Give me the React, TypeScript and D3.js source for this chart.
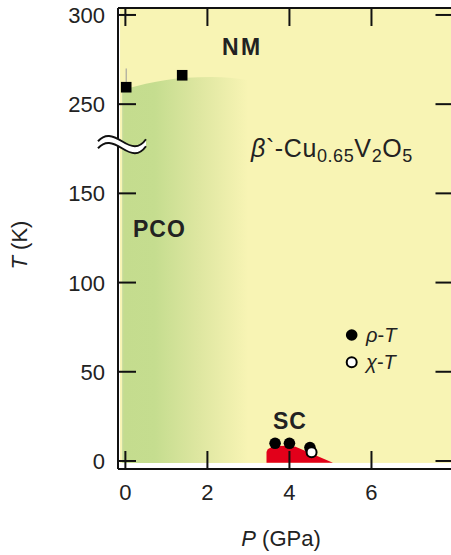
import React from "react";
import * as d3 from "d3";

// ---- data ----
const xTicks = [0, 2, 4, 6];
const yTicksLow = [0, 50, 100, 150];
const yTicksHigh = [250, 300];

// CDW (NM -> PCO) transition squares
const cdwP = [0.02, 1.385];
const cdwT = [259.5, 266.2];
const cdwErrUp = [10.5, 0];

// PCO dome upper boundary
const pcoP = [-0.08, 0.5, 1.0, 1.5, 2.1, 2.6, 3.0, 3.6];
const pcoT = [258, 261.5, 263.6, 264.8, 265.2, 264.7, 263.6, 261.5];

// SC region outline
const scP = [3.44, 3.44, 3.47, 3.56, 3.75, 3.95, 4.15, 5.06];
const scT = [-1, 5.0, 6.6, 7.7, 8.4, 8.6, 8.0, -1];

// rho-T points (filled), chi-T points (open)
const rhoP = [3.65, 4.0, 4.5];
const rhoT = [9.9, 9.9, 7.5];
const chiP = [4.54];
const chiT = [4.9];

const W = 451;
const H = 555;
const FONT = "'Liberation Sans', Arial, Helvetica, sans-serif";

// broken axis: values above 200 K shifted down by 50 K
const disp = (t: number) => (t > 200 ? t - 50 : t);

export default function App() {
  const x = d3.scaleLinear().domain([-0.18, 8]).range([118, 453.5]);
  const yS = d3.scaleLinear().domain([-4.5, 253.9]).range([469, 8]);
  const y = (t: number) => yS(disp(t));

  const bgLeft = x(-0.13);
  const bgBottom = y(-1.1);

  const pcoArea = d3
    .area<number>()
    .x((_, i) => x(pcoP[i]))
    .y0(() => bgBottom)
    .y1((_, i) => y(pcoT[i]))
    .curve(d3.curveMonotoneX);

  const scLine = d3
    .line<number>()
    .x((_, i) => x(scP[i]))
    .y((_, i) => y(scT[i]))
    .curve(d3.curveLinear);

  const tickLen = 18;
  const yAll = [...yTicksLow, ...yTicksHigh];

  // break symbol geometry
  const by = (yS(150) + yS(200)) / 2 - 4;
  const bx0 = x(-0.18) - 20;
  const bx1 = x(-0.18) + 28;
  const bw = bx1 - bx0;
  const wave = (dy: number) =>
    `M${bx0},${by + dy} C${bx0 + bw * 0.15},${by + dy - 8} ${bx0 + bw * 0.3},${by + dy - 6} ${bx0 + bw * 0.5},${by + dy} S${bx0 + bw * 0.85},${by + dy + 8} ${bx1},${by + dy - 2}`;
  const gap = 7;
  const bandPath = `${wave(-gap / 2)} L${bx1},${by + gap / 2 - 2} C${bx0 + bw * 0.85},${by + gap / 2 + 8} ${bx0 + bw * 0.65},${by + gap / 2 + 6} ${bx0 + bw * 0.5},${by + gap / 2} S${bx0 + bw * 0.15},${by + gap / 2 - 8} ${bx0},${by + gap / 2} Z`;

  const idxP = pcoP.map((_, i) => i);
  const idxS = scP.map((_, i) => i);

  return (
    <svg
      width={W}
      height={H}
      style={{ position: "absolute", left: 0, top: 0, background: "#fff" }}
      fontFamily={FONT}
    >
      <defs>
        <linearGradient id="pcoGrad" gradientUnits="userSpaceOnUse" x1={bgLeft} x2={x(3.0)} y1={0} y2={0}>
          <stop offset="0" stopColor="#cadcc0" />
          <stop offset="0.03" stopColor="#c4dc8e" />
          <stop offset="0.27" stopColor="#c5dd8f" />
          <stop offset="0.6" stopColor="#dde6a0" />
          <stop offset="1" stopColor="#f8f4b4" />
        </linearGradient>
      </defs>

      {/* plot background */}
      <rect x={bgLeft} y={yS(253.9) + 1} width={W - bgLeft} height={bgBottom - yS(253.9) - 1} fill="#f8f4b4" />

      {/* PCO region */}
      <path d={pcoArea(idxP) || ""} fill="url(#pcoGrad)" />

      {/* SC region */}
      <path d={(scLine(idxS) || "") + "Z"} fill="#e2001a" />

      {/* frame */}
      <g stroke="#111" strokeWidth={2} fill="none">
        <line x1={x(-0.18)} x2={W} y1={yS(-4.5)} y2={yS(-4.5)} />
        <line x1={x(-0.18)} x2={W} y1={yS(253.9)} y2={yS(253.9)} />
        <line x1={x(-0.18)} x2={x(-0.18)} y1={yS(253.9)} y2={yS(-4.5)} />
        <line x1={x(8)} x2={x(8)} y1={yS(253.9)} y2={yS(-4.5)} />
        {xTicks.map((t) => (
          <g key={"xt" + t}>
            <line x1={x(t)} x2={x(t)} y1={yS(-4.5)} y2={yS(-4.5) - tickLen} />
            <line x1={x(t)} x2={x(t)} y1={yS(253.9)} y2={yS(253.9) + tickLen} />
          </g>
        ))}
        {yAll.map((t) => (
          <g key={"yt" + t}>
            <line x1={x(-0.18)} x2={x(-0.18) + tickLen} y1={y(t)} y2={y(t)} />
            <line x1={x(8)} x2={x(8) - tickLen} y1={y(t)} y2={y(t)} />
          </g>
        ))}
      </g>

      {/* axis break symbol */}
      <path d={bandPath} fill="#fff" stroke="none" />
      <path d={wave(-gap / 2)} fill="none" stroke="#111" strokeWidth={2} />
      <path d={wave(gap / 2)} fill="none" stroke="#111" strokeWidth={2} />

      {/* CDW squares */}
      {cdwP.map((p, i) => (
        <g key={"sq" + i}>
          {cdwErrUp[i] > 0 && (
            <line x1={x(p)} x2={x(p)} y1={y(cdwT[i] + cdwErrUp[i])} y2={y(cdwT[i])} stroke="#999" strokeWidth={1} />
          )}
          <rect x={x(p) - 5.3} y={y(cdwT[i]) - 5.3} width={10.6} height={10.6} fill="#000" />
        </g>
      ))}

      {/* rho-T */}
      {rhoP.map((p, i) => (
        <circle key={"r" + i} cx={x(p)} cy={y(rhoT[i])} r={5.8} fill="#000" />
      ))}
      {/* chi-T */}
      {chiP.map((p, i) => (
        <circle key={"c" + i} cx={x(p)} cy={y(chiT[i])} r={5} fill="#fff" stroke="#000" strokeWidth={2} />
      ))}

      {/* tick labels */}
      <g fontSize={22} fill="#222">
        {xTicks.map((t) => (
          <text key={"xl" + t} x={x(t)} y={499.5} textAnchor="middle">
            {t}
          </text>
        ))}
        {yAll.map((t) => (
          <text key={"yl" + t} x={105} y={y(t) + 8} textAnchor="end">
            {t}
          </text>
        ))}
      </g>

      {/* axis titles */}
      <text x={281} y={546} textAnchor="middle" fontSize={22} fill="#222">
        <tspan fontStyle="italic">P</tspan> (GPa)
      </text>
      <text transform={`translate(27,245) rotate(-90)`} textAnchor="middle" fontSize={22} fill="#222">
        <tspan fontStyle="italic">T</tspan> (K)
      </text>

      {/* region labels */}
      <g fontWeight="bold" fill="#222" fontSize={23}>
        <text x={222} y={55} letterSpacing={2.5}>NM</text>
        <text x={133} y={237} letterSpacing={1}>PCO</text>
        <text x={273} y={429} letterSpacing={1}>SC</text>
      </g>

      {/* formula */}
      <text x={251} y={157} fontSize={25} fill="#222" letterSpacing={0.6}>
        <tspan fontStyle="italic">β</tspan>`-Cu
        <tspan fontSize={18} dy={5}>0.65</tspan>
        <tspan dy={-5}>V</tspan>
        <tspan fontSize={18} dy={5}>2</tspan>
        <tspan dy={-5}>O</tspan>
        <tspan fontSize={18} dy={5}>5</tspan>
      </text>

      {/* legend */}
      <circle cx={351.7} cy={335} r={5.8} fill="#000" />
      <circle cx={351.7} cy={362.3} r={5} fill="#fff" stroke="#000" strokeWidth={2} />
      <g fontSize={20} fill="#222">
        <text x={366} y={342}>
          <tspan fontStyle="italic">ρ</tspan>-<tspan fontStyle="italic">T</tspan>
        </text>
        <text x={366} y={369}>
          <tspan fontStyle="italic">χ</tspan>-<tspan fontStyle="italic">T</tspan>
        </text>
      </g>
    </svg>
  );
}
